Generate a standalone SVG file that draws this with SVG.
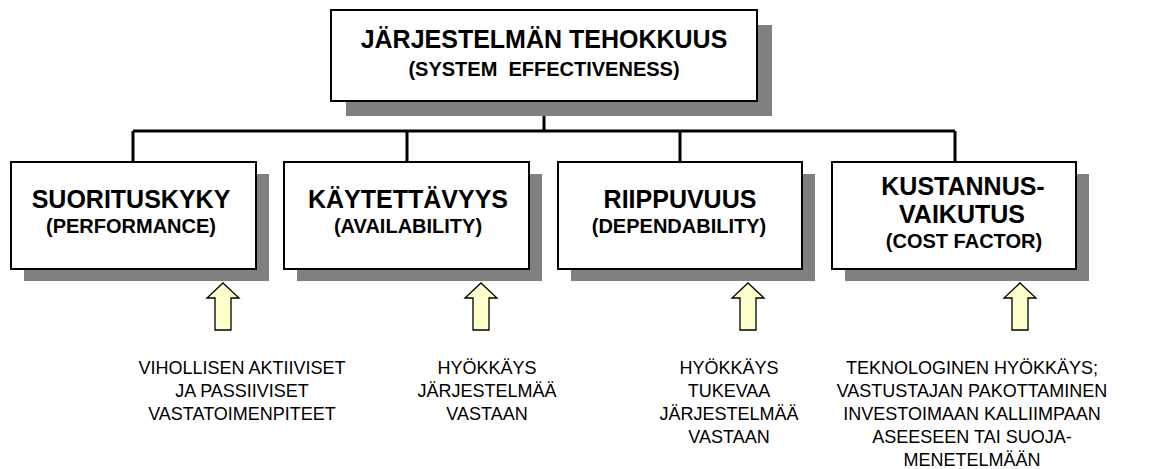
<svg xmlns="http://www.w3.org/2000/svg" width="1152" height="469" viewBox="0 0 1152 469">
  <style>
    .shadow { fill: #808080; stroke: none; }
    .box { fill: #ffffff; stroke: #000000; stroke-width: 2; }
    .wire { fill: none; stroke: #000000; stroke-width: 3; }
    .head { font-family: "Liberation Sans", Arial, sans-serif; font-weight: bold; font-size: 25px; fill: #000; text-anchor: middle; }
    .sub { font-family: "Liberation Sans", Arial, sans-serif; font-weight: bold; font-size: 20px; fill: #000; text-anchor: middle; }
    .note { font-family: "Liberation Sans", Arial, sans-serif; font-size: 18px; fill: #000; text-anchor: middle; }
    .arrow { fill: #ffffcc; stroke: #000000; stroke-width: 1.3; stroke-linejoin: miter; }
  </style>
  <defs>
    <!-- hollow up-arrow, tip at origin -->
    <path id="uparrow" d="M0,0 L16,15 L8,15 L8,47 L-8,47 L-8,15 L-16,15 Z"/>
  </defs>
  <rect width="1152" height="469" fill="#ffffff"/>

  <!-- connectors -->
  <g id="connectors">
    <path class="wire" d="M544,101 V131 M133,131 H955 M133,131 V162 M407,131 V162 M680,131 V162 M955,131 V162"/>
  </g>

  <g id="node-effectiveness">
    <rect class="shadow" x="346" y="25" width="426" height="91"/>
    <rect class="box" x="331" y="10" width="426" height="91"/>
    <text class="head" x="544" y="48">JÄRJESTELMÄN TEHOKKUUS</text>
    <text class="sub" x="544" y="76" xml:space="preserve">(SYSTEM  EFFECTIVENESS)</text>
  </g>

  <g id="node-performance">
    <rect class="shadow" x="24" y="174" width="245" height="107"/>
    <rect class="box" x="11" y="162" width="245" height="107"/>
    <text class="head" x="131" y="208">SUORITUSKYKY</text>
    <text class="sub" x="131" y="233">(PERFORMANCE)</text>
  </g>

  <g id="node-availability">
    <rect class="shadow" x="297" y="174" width="245" height="107"/>
    <rect class="box" x="284" y="162" width="245" height="107"/>
    <text class="head" x="408" y="208">KÄYTETTÄVYYS</text>
    <text class="sub" x="408" y="233">(AVAILABILITY)</text>
  </g>

  <g id="node-dependability">
    <rect class="shadow" x="571" y="174" width="244" height="107"/>
    <rect class="box" x="558" y="162" width="244" height="107"/>
    <text class="head" x="680" y="208">RIIPPUVUUS</text>
    <text class="sub" x="679" y="233">(DEPENDABILITY)</text>
  </g>

  <g id="node-cost">
    <rect class="shadow" x="845" y="174" width="244" height="107"/>
    <rect class="box" x="832" y="162" width="244" height="107"/>
    <text class="head" x="963" y="195">KUSTANNUS-</text>
    <text class="head" x="962" y="223">VAIKUTUS</text>
    <text class="sub" x="964" y="248">(COST FACTOR)</text>
  </g>

  <g id="threat-performance">
    <use href="#uparrow" class="arrow" x="223" y="283"/>
    <text class="note" x="242" y="374">VIHOLLISEN AKTIIVISET</text>
    <text class="note" x="242" y="397">JA PASSIIVISET</text>
    <text class="note" x="242" y="420">VASTATOIMENPITEET</text>
  </g>

  <g id="threat-availability">
    <use href="#uparrow" class="arrow" x="481" y="283"/>
    <text class="note" x="487" y="374">HYÖKKÄYS</text>
    <text class="note" x="487" y="397">JÄRJESTELMÄÄ</text>
    <text class="note" x="487" y="420">VASTAAN</text>
  </g>

  <g id="threat-dependability">
    <use href="#uparrow" class="arrow" x="748" y="283"/>
    <text class="note" x="729" y="374">HYÖKKÄYS</text>
    <text class="note" x="729" y="397">TUKEVAA</text>
    <text class="note" x="729" y="420">JÄRJESTELMÄÄ</text>
    <text class="note" x="729" y="443">VASTAAN</text>
  </g>

  <g id="threat-cost">
    <use href="#uparrow" class="arrow" x="1020" y="283"/>
    <text class="note" x="972" y="374">TEKNOLOGINEN HYÖKKÄYS;</text>
    <text class="note" x="972" y="397">VASTUSTAJAN PAKOTTAMINEN</text>
    <text class="note" x="972" y="420">INVESTOIMAAN KALLIIMPAAN</text>
    <text class="note" x="972" y="443">ASEESEEN TAI SUOJA-</text>
    <text class="note" x="972" y="466">MENETELMÄÄN</text>
  </g>
</svg>
